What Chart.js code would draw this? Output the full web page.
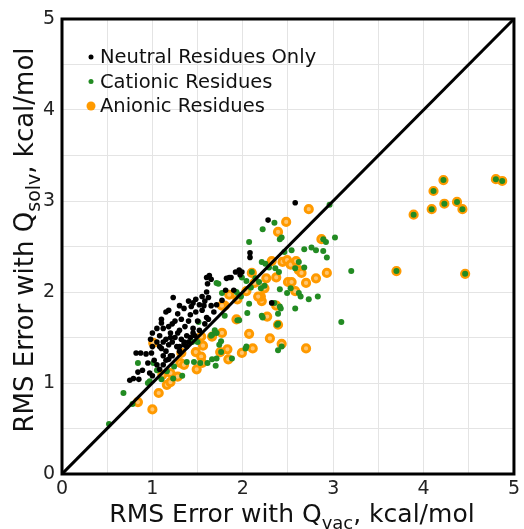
<!DOCTYPE html>
<html>
<head>
<meta charset="utf-8">
<script src="https://cdn.jsdelivr.net/npm/chart.js@4.4.0/dist/chart.umd.min.js"></script>
<style>
  body { margin: 0; background: #fff; }
  #wrap { width: 524px; height: 529px; }
</style>
</head>
<body>
<div id="wrap"><canvas id="chart"></canvas></div>
<script>
// axis ticks (labelled at integers, grid every 0.5)
const tickLabels = [0, 1, 2, 3, 4, 5]
const seriesNames = ['Neutral Residues Only', 'Cationic Residues', 'Anionic Residues']
const seriesColors = ['#000000', '#228b22', '#ff9a00']

// [x, y] = RMS error with Q_vac, RMS error with Q_solv (kcal/mol)
const neutral = [
  [0.75, 1.03], [0.79, 1.05], [0.85, 1.04], [0.84, 1.12], [0.89, 1.14], [0.97, 1.11],
  [0.82, 1.33], [0.87, 1.33], [0.93, 1.32], [0.99, 1.33], [1.02, 1.25], [1.05, 1.2],
  [0.95, 1.22], [1.08, 1.15], [1.0, 1.08], [1.15, 1.25],
  [1.0, 1.4], [1.05, 1.45], [1.08, 1.52], [1.1, 1.38], [1.12, 1.6], [1.15, 1.48],
  [1.18, 1.42], [1.2, 1.55], [1.22, 1.65], [1.25, 1.5], [1.27, 1.4], [1.3, 1.58],
  [1.32, 1.7], [1.35, 1.45], [1.36, 1.62], [1.38, 1.52], [1.3, 1.35], [1.42, 1.75],
  [1.45, 1.6], [1.47, 1.52], [1.5, 1.68], [1.52, 1.58], [1.55, 1.8], [1.58, 1.65],
  [1.6, 1.72], [1.62, 1.7], [1.1, 1.7], [1.15, 1.78], [1.18, 1.8], [1.28, 1.76],
  [1.3, 1.85], [1.35, 1.82], [1.4, 1.9], [1.45, 1.88], [1.52, 1.86], [1.55, 1.95],
  [1.6, 2.0], [1.65, 1.85], [1.68, 1.78], [1.05, 1.6], [1.0, 1.55], [0.98, 1.48],
  [1.12, 1.3], [1.2, 1.3], [1.12, 1.2], [1.18, 1.26], [1.22, 1.3], [1.22, 1.45],
  [1.28, 1.55], [1.32, 1.48], [1.38, 1.4], [1.42, 1.5], [1.18, 1.62], [1.25, 1.68],
  [1.08, 1.4], [1.15, 1.35], [1.35, 1.42], [1.4, 1.45], [1.45, 1.55], [1.3, 1.4],
  [1.2, 1.5], [1.12, 1.45], [1.4, 1.68], [1.48, 1.78], [1.58, 1.9], [1.1, 1.66],
  [1.23, 1.94], [1.48, 1.92], [1.62, 1.94], [1.57, 1.85], [1.71, 1.86], [1.43, 1.84],
  [1.81, 2.02], [1.77, 1.91], [1.63, 2.18], [1.82, 2.15], [1.87, 2.16], [1.92, 2.22],
  [1.61, 2.09], [1.96, 2.24], [1.99, 2.22], [2.08, 2.43], [2.08, 2.38], [2.28, 2.79],
  [2.58, 2.98], [2.32, 1.88], [1.6, 2.16], [1.65, 2.14], [1.85, 2.16], [1.97, 2.19],
  [1.9, 2.02]
]

const cationic = [
  [0.52, 0.55], [0.68, 0.89], [0.78, 0.77], [0.84, 1.22], [0.95, 1.0], [0.97, 1.02],
  [1.01, 1.22], [1.05, 1.14], [1.1, 1.04], [1.16, 1.13], [1.23, 1.05], [1.24, 1.18],
  [1.33, 1.08], [1.38, 1.23], [1.44, 1.45], [1.5, 1.45], [1.51, 1.67], [1.53, 1.22],
  [1.66, 1.53], [1.69, 1.58], [1.71, 1.55], [1.74, 1.42], [1.76, 1.34], [1.66, 1.26],
  [1.7, 1.19], [1.71, 1.27], [1.8, 1.74], [1.88, 1.27], [2.03, 1.38], [2.07, 1.87],
  [2.05, 1.77], [2.21, 1.74], [2.39, 1.36], [2.35, 1.88], [2.38, 1.64], [2.96, 2.96],
  [2.22, 2.69], [2.35, 2.76], [2.41, 2.58], [2.43, 2.6], [2.07, 2.55], [3.02, 2.6],
  [2.89, 2.58], [2.92, 2.55], [2.93, 2.38], [2.76, 2.49], [2.81, 2.46], [2.89, 2.45],
  [2.68, 2.47], [2.54, 2.46], [2.46, 2.44], [3.2, 2.23], [2.62, 2.33], [2.68, 2.27],
  [2.58, 2.26], [2.21, 2.33], [2.25, 2.31], [2.29, 2.27], [2.36, 2.26], [2.4, 2.22],
  [2.1, 2.22], [1.99, 2.16], [2.04, 2.12], [2.14, 2.15], [2.18, 2.11], [2.24, 2.07],
  [2.2, 2.04], [1.93, 2.0], [1.96, 1.97], [2.09, 2.05], [2.41, 2.03], [2.49, 1.99],
  [2.62, 1.99], [2.64, 1.95], [2.73, 1.92], [2.83, 1.95], [2.58, 1.82], [2.41, 1.84],
  [2.39, 1.76], [3.09, 1.67], [1.94, 1.69], [2.39, 1.65], [2.04, 1.4], [2.43, 1.4],
  [1.71, 2.1], [1.73, 2.09], [1.77, 1.99], [1.98, 1.95], [1.65, 1.52], [1.96, 1.69],
  [2.53, 2.04], [2.42, 1.82], [2.22, 1.72], [1.76, 1.46], [1.46, 1.23], [1.61, 1.22],
  [4.22, 3.23], [4.8, 3.24], [4.87, 3.22], [4.11, 3.11], [4.23, 2.97], [4.37, 2.99],
  [4.43, 2.91], [4.09, 2.91], [3.89, 2.85], [3.7, 2.23], [4.46, 2.2]
]

const anionic = [
  [1.01, 1.44], [0.84, 0.79], [1.0, 0.71], [1.07, 0.89], [1.16, 0.98], [1.2, 1.01],
  [1.11, 1.09], [1.28, 1.07], [1.32, 1.33], [1.31, 1.22], [1.35, 1.2], [1.48, 1.34],
  [1.49, 1.15], [1.54, 1.51], [1.54, 1.29], [1.56, 1.41], [1.55, 1.22], [1.66, 1.51],
  [1.77, 1.55], [1.75, 1.34], [1.83, 1.37], [1.84, 1.26], [1.93, 1.7], [1.8, 1.85],
  [2.07, 1.54], [1.99, 1.33], [2.11, 1.38], [2.27, 1.73], [2.3, 1.49], [2.21, 1.9],
  [2.73, 2.91], [2.48, 2.77], [2.39, 2.66], [2.87, 2.58], [2.93, 2.21], [2.81, 2.15],
  [2.44, 2.33], [2.49, 2.35], [2.53, 2.3], [2.32, 2.34], [2.59, 2.34], [2.62, 2.24],
  [2.65, 2.21], [2.7, 2.1], [2.5, 2.11], [2.54, 2.11], [2.58, 2.01], [2.26, 2.15],
  [2.37, 2.16], [2.24, 2.04], [2.13, 2.1], [2.04, 2.01], [2.2, 1.95], [2.37, 1.85],
  [2.39, 1.64], [2.43, 1.43], [2.7, 1.38], [1.85, 1.97], [1.77, 1.85], [1.94, 1.92],
  [2.17, 1.95], [2.1, 2.21], [1.2, 1.11],
  [4.22, 3.23], [4.8, 3.24], [4.87, 3.22], [4.11, 3.11], [4.23, 2.97], [4.37, 2.99],
  [4.43, 2.91], [4.09, 2.91], [3.89, 2.85], [3.7, 2.23], [4.46, 2.2]
]

const diagonal = [[0, 0], [5, 5]]

const toPoints = arr => arr.map(p => ({ x: p[0], y: p[1] }))
const FONT = 'DejaVu Sans'

// frame, in-plot legend and axis titles with subscripts
const extras = {
  id: 'extras',
  afterDraw (chart) {
    const { ctx, chartArea: a } = chart
    ctx.save()
    ctx.strokeStyle = '#000'
    ctx.lineWidth = 3
    ctx.strokeRect(a.left, a.top, a.right - a.left, a.bottom - a.top)

    // legend
    const radii = [2.5, 2.5, 4.5]
    ctx.font = '19.5px ' + FONT
    ctx.textBaseline = 'middle'
    seriesNames.forEach((name, i) => {
      const y = 57 + i * 24.5
      ctx.beginPath()
      ctx.fillStyle = seriesColors[i]
      ctx.arc(91, y, radii[i], 0, Math.PI * 2)
      ctx.fill()
      ctx.fillStyle = '#111'
      ctx.fillText(name, 100, y + 1)
    })

    // title helper: main text, subscript, rest
    function drawTitle (pre, sub, post, x, y, size) {
      const subSize = Math.round(size * 0.72)
      ctx.textBaseline = 'alphabetic'
      ctx.font = size + 'px ' + FONT
      const w1 = ctx.measureText(pre).width
      const w3 = ctx.measureText(post).width
      ctx.font = subSize + 'px ' + FONT
      const w2 = ctx.measureText(sub).width
      let cx = x - (w1 + w2 + w3) / 2
      ctx.fillStyle = '#111'
      ctx.font = size + 'px ' + FONT
      ctx.fillText(pre, cx, y)
      cx += w1
      ctx.font = subSize + 'px ' + FONT
      ctx.fillText(sub, cx, y + 7)
      cx += w2
      ctx.font = size + 'px ' + FONT
      ctx.fillText(post, cx, y)
    }

    drawTitle('RMS Error with Q', 'vac', ', kcal/mol', (a.left + a.right) / 2 + 4, 522, 25)

    ctx.translate(33, 240)
    ctx.rotate(-Math.PI / 2)
    drawTitle('RMS Error with Q', 'solv', ', kcal/mol', 0, 0, 26)
    ctx.restore()
  }
}

const tickCallback = v => (tickLabels.includes(v) ? String(v) : '')

new Chart(document.getElementById('chart'), {
  type: 'scatter',
  data: {
    datasets: [
      {
        data: toPoints(diagonal),
        showLine: true,
        borderColor: '#000',
        borderWidth: 3,
        pointRadius: 0,
        order: 0
      },
      {
        label: seriesNames[0],
        data: toPoints(neutral),
        backgroundColor: seriesColors[0],
        borderWidth: 0,
        pointRadius: 2.8,
        order: 1
      },
      {
        label: seriesNames[1],
        data: toPoints(cationic),
        backgroundColor: seriesColors[1],
        borderWidth: 0,
        pointRadius: 3,
        order: 2
      },
      {
        label: seriesNames[2],
        data: toPoints(anionic),
        backgroundColor: '#ffc56e',
        borderColor: seriesColors[2],
        borderWidth: 3,
        pointRadius: 3.6,
        order: 3
      }
    ]
  },
  options: {
    responsive: true,
    maintainAspectRatio: false,
    animation: false,
    events: [],
    layout: { padding: { top: 19, right: 8, left: 0, bottom: 0 } },
    plugins: {
      legend: { display: false },
      tooltip: { enabled: false }
    },
    scales: {
      x: {
        type: 'linear',
        min: 0,
        max: 5,
        afterFit (scale) { scale.height = 55 },
        grid: { color: '#e4e4e4', lineWidth: 1, drawTicks: false },
        border: { display: false },
        ticks: {
          stepSize: 0.5,
          autoSkip: false,
          maxRotation: 0,
          padding: 4,
          color: '#222',
          font: { family: FONT, size: 19 },
          callback: tickCallback
        }
      },
      y: {
        type: 'linear',
        min: 0,
        max: 5,
        afterFit (scale) { scale.width = 62 },
        grid: { color: '#e4e4e4', lineWidth: 1, drawTicks: false },
        border: { display: false },
        ticks: {
          stepSize: 0.5,
          autoSkip: false,
          padding: 7,
          color: '#222',
          font: { family: FONT, size: 19 },
          callback: tickCallback
        }
      }
    }
  },
  plugins: [extras]
})
</script>
</body>
</html>
